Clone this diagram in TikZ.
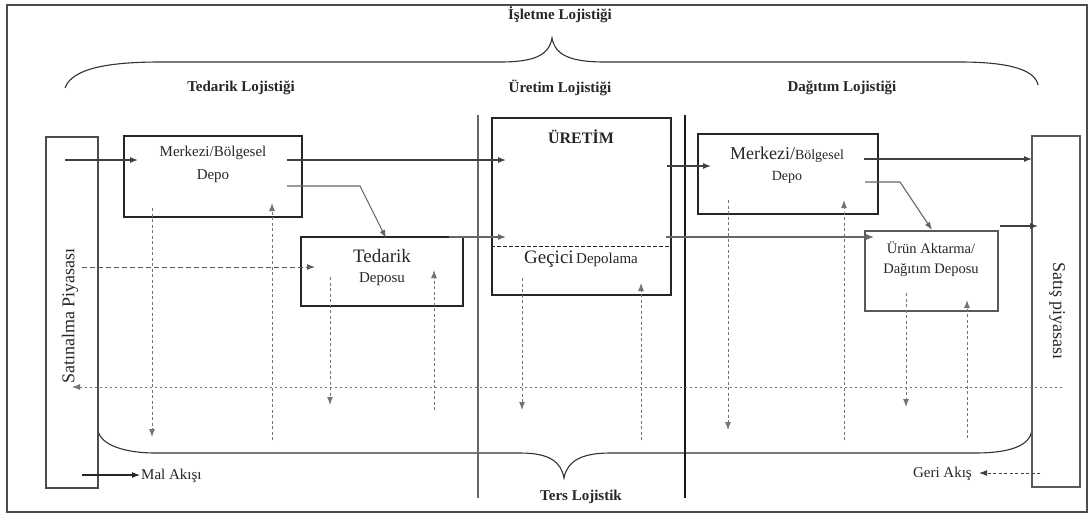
\documentclass[tikz,border=0pt]{standalone}
\usepackage{fontspec}
\setmainfont{Liberation Serif}
\usetikzlibrary{arrows.meta}
\newcommand\fsz[1]{\fontsize{#1}{#1}\selectfont}
\tikzset{
  box/.style={draw=black!85, line width=1.2pt, inner sep=0pt},
  flow/.style={draw=black!75, line width=1.1pt, -{Latex[length=8pt,width=6pt]}},
  back/.style={draw=black!55, line width=1pt, dash pattern=on 3pt off 2.5pt, -{Latex[length=8pt,width=6pt]}},
  lbl/.style={text=black!85, inner sep=0pt},
  ttl/.style={lbl, font=\bfseries\fsz{15}},
  txt/.style={lbl, font=\fsz{15}},
}
\begin{document}
\begin{tikzpicture}[x=1pt,y=-1pt]
\useasboundingbox (0,0) rectangle (1091,517);
\draw[black!70, line width=1.5pt] (7,5) rectangle (1087,512);

% braces
\draw[black!80, line width=1.1pt] (65,88) .. controls (72,68) and (110,62) .. (160,62) -- (500,62) .. controls (535,62) and (549,55) .. (552,38) .. controls (555,55) and (570,62) .. (605,62) -- (960,62) .. controls (1010,62) and (1035,70) .. (1038,85);
\draw[black!80, line width=1.1pt] (98,430) .. controls (100,445) and (125,453) .. (155,453) -- (520,453) .. controls (550,453) and (561,462) .. (564,478) .. controls (567,462) and (580,453) .. (610,453) -- (975,453) .. controls (1012,453) and (1030,445) .. (1032,430);

% titles
\node[ttl] (isl) at (560,15) {İşletme Lojistiği};
\node[ttl] (ted) at (241,88) {Tedarik Lojistiği};
\node[ttl] (ure) at (560,88) {Üretim Lojistiği};
\node[ttl] (dag) at (842,88) {Dağıtım Lojistiği};
\node[ttl] (ters) at (581,497) {Ters Lojistik};

% separators
\draw[black!60, line width=1.6pt] (478,115) -- (478,498);
\draw[black!90, line width=1.1pt] (685,115) -- (685,498);

% boxes
\node[box, draw=black!70, minimum width=52pt, minimum height=351pt] (sat) at (72,312.5) {};
\node[box, minimum width=178pt, minimum height=81pt] (m1) at (213,176.5) {};
\node[box, minimum width=162pt, minimum height=69pt] (td) at (382,271.5) {};
\node[box, minimum width=179pt, minimum height=177pt] (ur) at (581.5,206.5) {};
\node[box, minimum width=180pt, minimum height=80pt] (m2) at (788,174) {};
\node[box, draw=black!65, minimum width=133pt, minimum height=80pt] (ua) at (931.5,271) {};
\node[box, draw=black!65, minimum width=48pt, minimum height=351pt] (sp) at (1056,311.5) {};
\draw[black!85, line width=1pt, dash pattern=on 4pt off 2pt] (ur.west |- 0,246) coordinate (gl) -- (ur.east |- 0,246) coordinate (gr);

% box texts
\node[lbl, font=\fsz{18}, rotate=90] (satt) at (70,316) {Satınalma Piyasası};
\node[lbl, font=\fsz{18}, rotate=-90] (spt) at (1057,311) {Satış piyasası};
\node[txt] (m1a) at (213,153) {Merkezi/Bölgesel};
\node[txt] (m1b) at (213,176) {Depo};
\node[lbl, font=\fsz{19}] (tda) at (382,256) {Tedarik};
\node[txt] (tdb) at (382,279) {Deposu};
\node[lbl, font=\bfseries\fsz{16}] (ura) at (581,137) {ÜRETİM};
\node[lbl] (urb) at (581,259) {{\fsz{19}Geçici} {\fsz{15}Depolama}};
\node[lbl] (m2a) at (787,155) {{\fsz{18}Merkezi/}{\fsz{14}Bölgesel}};
\node[lbl, font=\fsz{14}] (m2b) at (787,177) {Depo};
\node[lbl, font=\fsz{14.5}] (uaa) at (931,248) {Ürün Aktarma/};
\node[lbl, font=\fsz{14.5}] (uab) at (931,270) {Dağıtım Deposu};

% coordinates
\coordinate (s1) at (65,160);   \coordinate (e1) at (138,160);
\coordinate (s2) at (287,160);  \coordinate (e2) at (506,160);
\coordinate (s3) at (287,186);  \coordinate (k3) at (360,186); \coordinate (e3) at (386,238);
\coordinate (s4) at (82,267);   \coordinate (e4) at (315,267);
\coordinate (s5) at (449,237);  \coordinate (e5) at (506,237);
\coordinate (s6) at (667,166);  \coordinate (e6) at (711,166);
\coordinate (s7) at (666,237);  \coordinate (e7) at (874,237);
\coordinate (s8) at (864,159);  \coordinate (e8) at (1032,159);
\coordinate (s9) at (865,182);  \coordinate (k9) at (900,182); \coordinate (e9) at (932,230);
\coordinate (s10) at (1000,226); \coordinate (e10) at (1038,226);
\coordinate (rs) at (1062,387); \coordinate (re) at (72,387);

% solid flows
\draw[flow] (s1) -- (e1);
\draw[flow] (s2) -- (e2);
\draw[flow, draw=black!60] (s3) -- (k3) -- (e3);
\draw[back, draw=black!65, dash pattern=on 5pt off 3pt] (s4) -- (e4);
\draw[flow, draw=black!60] (s5) -- (e5);
\draw[flow] (s6) -- (e6);
\draw[flow, draw=black!60] (s7) -- (e7);
\draw[flow] (s8) -- (e8);
\draw[flow, draw=black!60] (s9) -- (k9) -- (e9);
\draw[flow] (s10) -- (e10);

% reverse horizontal
\draw[back, dash pattern=on 2pt off 3pt] (rs) -- (re);

% vertical reverse flows
\foreach \n/\x/\ya/\yb in {v1/152/208/437, v2/272/440/203, v3/330/277/405, v4/434/410/270, v5/522/278/410, v6/641/440/283, v7/728/200/430, v8/844/440/200, v9/906/293/407, v10/967/438/300}{
  \coordinate (\n s) at (\x,\ya);
  \coordinate (\n e) at (\x,\yb);
  \draw[back] (\n s) -- (\n e);
}

% legend
\coordinate (ls) at (82,475); \coordinate (le) at (140,475);
\draw[flow, draw=black!85] (ls) -- (le);
\node[txt, anchor=west] (mal) at (141,476) {Mal Akışı};
\coordinate (gs) at (1040,473); \coordinate (ge) at (979,473);
\draw[back, draw=black!75] (gs) -- (ge);
\node[txt, anchor=east] (geri) at (972,474) {Geri Akış};
\end{tikzpicture}
\end{document}
